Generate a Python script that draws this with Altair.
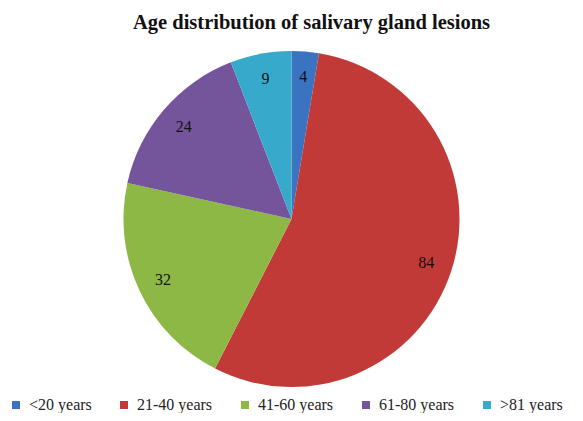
import altair as alt
import pandas as pd

categories = ["<20 years", "21-40 years", "41-60 years", "61-80 years", ">81 years"]
values = [4, 84, 32, 24, 9]
colors = ["#3A73C0", "#C13A37", "#8DB845", "#74559C", "#37AACB"]

df = pd.DataFrame({"group": categories, "count": values, "order": list(range(len(values)))})

base = alt.Chart(df).encode(
    theta=alt.Theta("count:Q", stack=True),
    order=alt.Order("order:Q"),
)

pie = base.mark_arc(outerRadius=168, strokeWidth=0).encode(
    color=alt.Color(
        "group:N",
        sort=categories,
        scale=alt.Scale(domain=categories, range=colors),
        legend=alt.Legend(
            title=None,
            orient="bottom",
            direction="horizontal",
            symbolType="square",
            symbolSize=64,
            symbolStrokeWidth=0,
            labelFont="Liberation Serif",
            labelFontSize=16,
            labelColor="#222222",
            columnPadding=24,
            labelOffset=5,
            offset=6,
        ),
    )
)

labels = base.mark_text(radius=142, font="Liberation Serif", fontSize=16, color="#111111").encode(
    text=alt.Text("count:Q")
)

chart = (
    alt.layer(pie, labels)
    .properties(
        width=567,
        height=405,
        autosize=alt.AutoSizeParams(type="fit", contains="padding"),
        padding={"top": 4, "bottom": 0, "left": 0, "right": 0},
        title=alt.TitleParams(
            "Age distribution of salivary gland lesions",
            font="Liberation Serif",
            fontSize=20.5,
            fontWeight="bold",
            color="#111111",
            anchor="middle",
            dx=20,
            offset=14,
        ),
    )
    .configure_view(stroke=None)
)

chart.save("out.html", embed_options={"renderer": "svg", "actions": False})
